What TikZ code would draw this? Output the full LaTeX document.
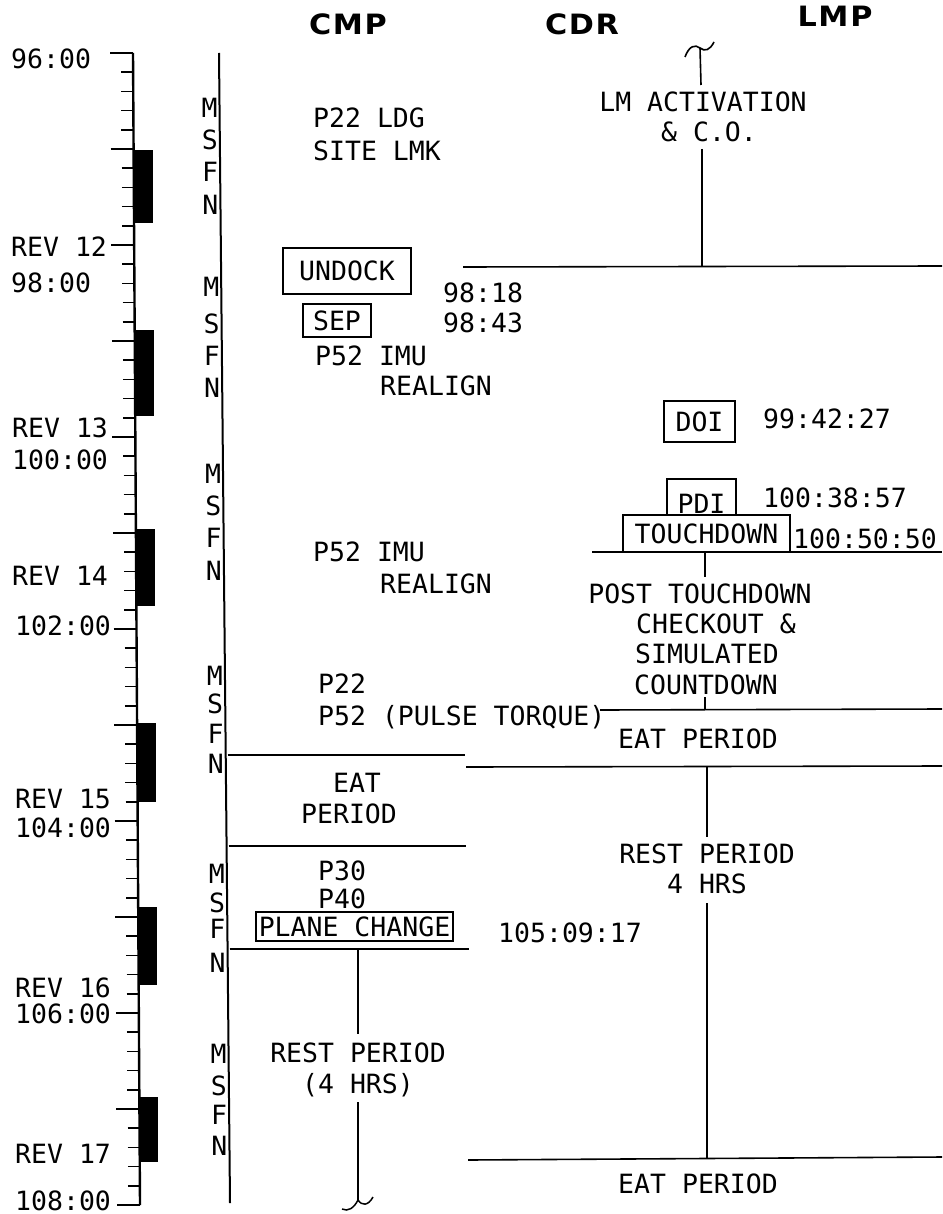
\documentclass[tikz,border=0pt]{standalone}
\usepackage{fontspec}
\newfontfamily\monofam{DejaVu Sans Mono}
\newfontfamily\headfam[LetterSpace=6,FakeStretch=1.08]{DejaVu Sans}
\newcommand\mytt{\fontsize{26.5}{31}\selectfont\monofam}
\newcommand\myhead{\fontsize{28}{31}\selectfont\headfam\bfseries}
\begin{document}
\begin{tikzpicture}[x=1pt,y=-1pt,
  txt/.style={font=\mytt, inner sep=0pt},
  hdr/.style={font=\myhead, inner sep=0pt, anchor=base},
  tbox/.style={draw, line width=1.5pt, font=\mytt, inner sep=0pt},
  ln/.style={line width=1.6pt},
  tk/.style={line width=1.5pt}]
\useasboundingbox (0,0) rectangle (942,1214);

% headers
\node[hdr] (cmp) at (348,35) {CMP};
\node[hdr] (cdr) at (582,35) {CDR};
\node[hdr] (lmp) at (835,27) {LMP};

% time axis
\coordinate (axtop) at (133,53);
\coordinate (axbot) at (140,1205);
\draw[line width=2.4pt] (axtop) -- (axbot);
\foreach \k in {0,...,60}{
  \pgfmathsetmacro\yy{53+19.2*\k}
  \pgfmathsetmacro\xx{133+(\yy-53)*7/1152}
  \draw[tk] (\xx-12,\yy) -- (\xx,\yy);
}
\foreach \k in {0,5,...,60}{
  \pgfmathsetmacro\yy{53+19.2*\k}
  \pgfmathsetmacro\xx{133+(\yy-53)*7/1152}
  \draw[tk] (\xx-23,\yy) -- (\xx,\yy);
}
\foreach \a/\b in {150/223, 330/416, 529/606, 723/802, 907/985, 1097/1162}{
  \pgfmathsetmacro\xa{133+(\a-53)*7/1152}
  \fill (\xa,\a) rectangle (\xa+19,\b);
}

% axis labels
\node[txt, anchor=base west] (l96)  at (11,69)   {96:00};
\node[txt, anchor=base west] (r12)  at (11,257)  {REV 12};
\node[txt, anchor=base west] (l98)  at (11,293)  {98:00};
\node[txt, anchor=base west] (r13)  at (12,437)  {REV 13};
\node[txt, anchor=base west] (l100) at (12,469)  {100:00};
\node[txt, anchor=base west] (r14)  at (12,585)  {REV 14};
\node[txt, anchor=base west] (l102) at (15,635)  {102:00};
\node[txt, anchor=base west] (r15)  at (15,808)  {REV 15};
\node[txt, anchor=base west] (l104) at (15,837)  {104:00};
\node[txt, anchor=base west] (r16)  at (15,997)  {REV 16};
\node[txt, anchor=base west] (l106) at (15,1023) {106:00};
\node[txt, anchor=base west] (r17)  at (15,1163) {REV 17};
\node[txt, anchor=base west] (l108) at (15,1210) {108:00};

% CMP time line
\coordinate (cltop) at (219,53);
\coordinate (clbot) at (230,1203);
\draw[line width=2pt] (cltop) -- (clbot);

% MSFN columns
\foreach \g/\ya/\yb/\yc/\yd in {1/108/140/172/205, 2/287/323/355/387, 3/473/505/537/570,
                                4/675/703/733/763, 5/873/902/928/962, 6/1053/1085/1114/1145}{
  \foreach \L/\y in {M/\ya, S/\yb, F/\yc, N/\yd}{
    \pgfmathsetmacro\xl{219+(\y-53)*11/1150-10}
    \node[txt, anchor=base] (m\g\L) at (\xl,\y+10) {\L};
  }
}

% CMP column
\node[txt, anchor=base west] (p22a) at (313,128) {P22 LDG};
\node[txt, anchor=base west] (site) at (313,161) {SITE LMK};
\node[tbox, minimum width=128, minimum height=46] (undock) at (347,271) {UNDOCK};
\node[txt, anchor=base west] (t9818) at (443,302) {98:18};
\node[tbox, minimum width=68, minimum height=33] (sep) at (337,320.5) {SEP};
\node[txt, anchor=base west] (t9843) at (443,332) {98:43};
\node[txt, anchor=base west] (p52a) at (315,365) {P52 IMU};
\node[txt, anchor=base west] (rea) at (380,395) {REALIGN};
\node[txt, anchor=base west] (p52b) at (313,561) {P52 IMU};
\node[txt, anchor=base west] (reb) at (380,593) {REALIGN};
\node[txt, anchor=base west] (p22b) at (318,693) {P22};
\node[txt, anchor=base west] (p52c) at (318,725) {P52 (PULSE TORQUE)};
\node[txt, anchor=base] (eat1) at (357,792) {EAT};
\node[txt, anchor=base] (per1) at (349,823) {PERIOD};
\node[txt, anchor=base west] (p30) at (318,880) {P30};
\node[txt, anchor=base west] (p40) at (318,908) {P40};
\node[tbox, minimum width=197, minimum height=29] (plane) at (354.5,926.5) {PLANE CHANGE};
\node[txt, anchor=base west] (t1050917) at (498,942) {105:09:17};
\node[txt, anchor=base] (restc) at (358,1062) {REST PERIOD};
\node[txt, anchor=base] (hrsc) at (358,1093) {(4 HRS)};

% CMP horizontal lines
\coordinate (e1l) at (227.5,755); \coordinate (e1r) at (465,755);
\coordinate (e2l) at (228.5,846); \coordinate (e2r) at (466,846);
\coordinate (e3l) at (229.5,949); \coordinate (e3r) at (469,949);
\draw[ln] (e1l) -- (e1r);
\draw[ln] (e2l) -- (e2r);
\draw[ln] (e3l) -- (e3r);

% CMP rest period line
\coordinate (rc1) at (358,949);
\coordinate (rc2) at (358,1034);
\coordinate (rc3) at (358,1102);
\coordinate (rc4) at (358,1200);
\draw[ln] (rc1) -- (rc2);
\draw[ln] (rc3) -- (rc4);
\draw[line width=1.5pt] (342,1209) .. controls (348,1212) and (354,1208) .. (rc4)
  .. controls (362,1206) and (368,1206) .. (373,1197);

% LM activation
\coordinate (tl) at (700,48);
\draw[line width=1.6pt] (685,57) .. controls (689,46) and (695,44) .. (tl)
  .. controls (705,52) and (710,50) .. (714,42);
\node[txt, anchor=base] (lmact) at (703,112) {LM ACTIVATION};
\node[txt, anchor=base] (lmco) at (709,142) {\& C.O.};
\coordinate (la1) at (701,85);
\coordinate (la2) at (702,149);
\coordinate (la3) at (702,267);
\draw[ln] (tl) -- (la1);
\draw[ln] (la2) -- (la3);
\coordinate (h1l) at (463,267); \coordinate (h1r) at (942,266);
\draw[ln] (h1l) -- (h1r);

% descent
\node[tbox, minimum width=71, minimum height=41] (doi) at (699.5,421.5) {DOI};
\node[txt, anchor=base west] (t994227) at (763,428) {99:42:27};
\node[tbox, minimum width=69, minimum height=50] (pdi) at (701.5,504) {PDI};
\node[txt, anchor=base west] (t1003857) at (763,507) {100:38:57};
\node[tbox, fill=white, minimum width=167, minimum height=37] (td) at (706.5,533.5) {TOUCHDOWN};
\node[txt, anchor=base west] (t1005050) at (793,548) {100:50:50};
\coordinate (h2l) at (592,552); \coordinate (h2r) at (942,552);
\draw[ln] (h2l) -- (h2r);
\coordinate (tk1) at (705,552); \coordinate (tk2) at (705,577);
\draw[tk] (tk1) -- (tk2);
\node[txt, anchor=base] (post) at (700,603) {POST TOUCHDOWN};
\node[txt, anchor=base] (chk) at (716,633) {CHECKOUT \&};
\node[txt, anchor=base] (sim) at (707,663) {SIMULATED};
\node[txt, anchor=base] (cnt) at (706,694) {COUNTDOWN};
\coordinate (h3l) at (600,710); \coordinate (h3r) at (942,709);
\draw[ln] (h3l) -- (h3r);
\coordinate (tk3) at (705,697); \coordinate (tk4) at (705,710);
\draw[tk] (tk3) -- (tk4);
\node[txt, anchor=base] (eat2) at (698,748) {EAT PERIOD};
\coordinate (h4l) at (466,767); \coordinate (h4r) at (942,766);
\draw[ln] (h4l) -- (h4r);
\coordinate (v1) at (707,767); \coordinate (v2) at (707,837);
\coordinate (v3) at (707,903); \coordinate (v4) at (707,1158);
\draw[ln] (v1) -- (v2);
\node[txt, anchor=base] (restl) at (707,863) {REST PERIOD};
\node[txt, anchor=base] (hrsl) at (707,893) {4 HRS};
\draw[ln] (v3) -- (v4);
\coordinate (h5l) at (468,1160); \coordinate (h5r) at (942,1157);
\draw[ln] (h5l) -- (h5r);
\node[txt, anchor=base] (eat3) at (698,1193) {EAT PERIOD};
\end{tikzpicture}
\end{document}
